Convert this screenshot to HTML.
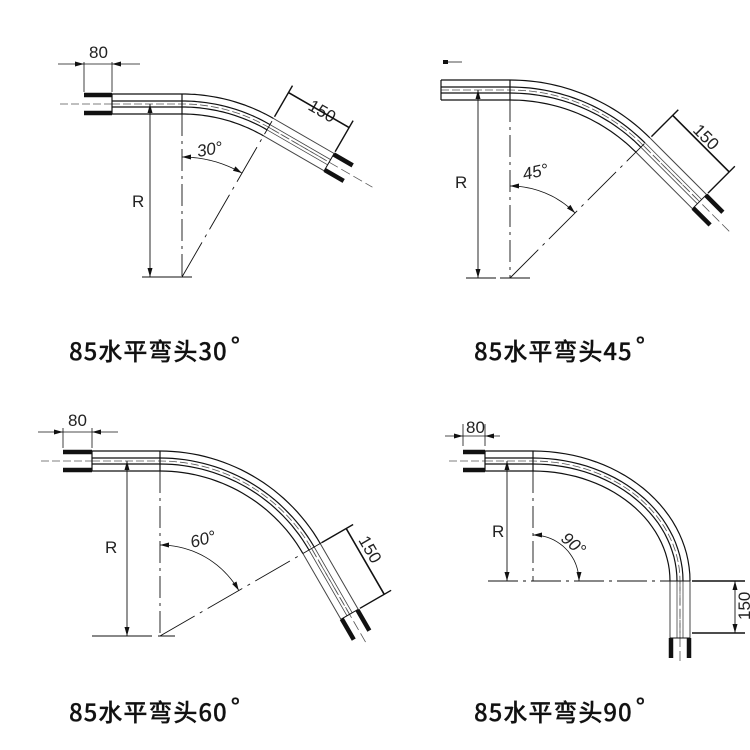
<!DOCTYPE html>
<html><head><meta charset="utf-8"><style>
html,body{margin:0;padding:0;background:#fff}
svg{display:block}
.lab{font-family:"Noto Sans CJK SC","Liberation Sans",sans-serif;font-size:24px;font-weight:500;fill:#111;stroke:#111;stroke-width:0.25;letter-spacing:1px}
.dim{font-family:"Liberation Sans",sans-serif;font-size:17px;fill:#222}
</style></head><body>
<svg id="s" width="750" height="750" viewBox="0 0 750 750" xmlns="http://www.w3.org/2000/svg">
<text class="lab" x="69" y="360">85水平弯头30<tspan dx="3" dy="-5">°</tspan></text>
<text class="lab" x="474" y="360">85水平弯头45<tspan dx="3" dy="-5">°</tspan></text>
<text class="lab" x="69" y="721">85水平弯头60<tspan dx="3" dy="-5">°</tspan></text>
<text class="lab" x="474" y="721">85水平弯头90<tspan dx="3" dy="-5">°</tspan></text>
<text class="dim" x="89" y="58">80</text>
<text class="dim" x="68" y="426">80</text>
<text class="dim" x="466" y="433">80</text>
<text class="dim" x="132" y="207">R</text>
<text class="dim" x="455" y="188">R</text>
<text class="dim" x="105" y="553">R</text>
<text class="dim" x="492" y="537">R</text>
<text class="dim" font-style="italic" x="198" y="157" transform="rotate(-10 198 157)">30°</text>
<text class="dim" font-style="italic" x="524" y="180" transform="rotate(-12 524 180)">45°</text>
<text class="dim" font-style="italic" x="192" y="548" transform="rotate(-15 192 548)">60°</text>
<text class="dim" font-style="italic" x="560" y="540" transform="rotate(40 560 540)">90°</text>
<text class="dim" x="307" y="109" transform="rotate(30 307 109)">150</text>
<text class="dim" x="692" y="131" transform="rotate(45 692 131)">150</text>
<text class="dim" x="358" y="540" transform="rotate(60 358 540)">150</text>
<text class="dim" x="750" y="620" transform="rotate(-90 750 620)">150</text>
<g id="g" fill="none" stroke="#111"></g>
</svg>
<script>
var g=document.getElementById('g'),out='';
function L(x1,y1,x2,y2,w,da,c){out+='<line x1="'+x1+'" y1="'+y1+'" x2="'+x2+'" y2="'+y2+'" stroke-width="'+(w||1)+'"'+(da?' stroke-dasharray="'+da+'"':'')+(c?' stroke="'+c+'"':'')+'/>';}
function PL(p,w,da,c){out+='<polyline points="'+p.map(function(q){return q[0].toFixed(1)+','+q[1].toFixed(1)}).join(' ')+'" stroke-width="'+w+'"'+(da?' stroke-dasharray="'+da+'"':'')+(c?' stroke="'+c+'"':'')+'/>';}
function arrow(x,y,dx,dy){var n=Math.hypot(dx,dy);dx/=n;dy/=n;var l=9,h=2.5;
out+='<polygon fill="#111" stroke="none" points="'+x+','+y+' '+(x-dx*l-dy*h)+','+(y-dy*l+dx*h)+' '+(x-dx*l+dy*h)+','+(y-dy*l-dx*h)+'"/>';}
function bend(o){
 var px=o.px,py=o.py,rx=o.rx,ry=o.ry,th=o.th*Math.PI/180;
 var top=py-ry;var x0=o.xl+(o.lcap||0);var c=[];c.push([x0,top]);c.push([px,top]);
 for(var i=1;i<=30;i++){var t=th*i/30;c.push([px+rx*Math.sin(t),py-ry*Math.cos(t)]);}
 var e=c[c.length-1];var tx=rx*Math.cos(th),ty=ry*Math.sin(th),tn=Math.hypot(tx,ty);tx/=tn;ty/=tn;
 var arcEnd=c.length-1;var s=o.len-o.cap;
 c.push([e[0]+tx*s,e[1]+ty*s]);
 function off(d,a,b){var r=[];for(var i=a;i<=b;i++){var p=c[Math.max(i-1,0)],q=c[Math.min(i+1,c.length-1)];var dx=q[0]-p[0],dy=q[1]-p[1],n=Math.hypot(dx,dy);r.push([c[i][0]+dy/n*d,c[i][1]-dx/n*d]);}return r;}
 var N=c.length-1;
 [-10,-3,3,10].forEach(function(d){PL(off(d,0,arcEnd),1.2);PL(off(d,arcEnd,N),Math.abs(d)==10?1:0.8,null,'#444');});
 PL(off(0,0,N),0.8,'8 3','#555');
 L(e[0],e[1],e[0]+tx*(o.len+o.ext),e[1]+ty*(o.len+o.ext),0.8,'10 4','#555');
 L(o.xl-(o.lext||0),top,x0,top,0.8,'8 3','#555');
 L(x0,top-10,x0,top+10,1.2);
 L(px,top-10,px,top+10,1.2);
 var nx=ty,ny=-tx;
 var q=[e[0]+tx*s,e[1]+ty*s];L(q[0]+nx*10,q[1]+ny*10,q[0]-nx*10,q[1]-ny*10,1);
 [-9,9].forEach(function(d){L(e[0]+tx*s+nx*d,e[1]+ty*s+ny*d,e[0]+tx*(o.len+2)+nx*d,e[1]+ty*(o.len+2)+ny*d,4.5);});
 if(o.lcap){[-9,9].forEach(function(d){L(o.xl,top+d,o.xl+o.lcap,top+d,4.5);});}
 return {e:e,tx:tx,ty:ty,s:s,nx:nx,ny:ny};
}
function diag(o){
 var r=bend(o),px=o.px,py=o.py,top=py-o.ry;
 L(px,top+10,px,py,0.9,'22 5 3 5');
 L(o.bl[0],py,o.bl[1],py,0.9,o.bl[2]);
 L(o.rx_,top,o.rx_,py,0.9);arrow(o.rx_,top,0,-1);arrow(o.rx_,py,0,1);
 var th=o.th*Math.PI/180;
 if(o.th<90)L(px,py,px+Math.sin(th)*o.rl,py-Math.cos(th)*o.rl,0.9,'40 6 3 6');
 var a=o.ar,pts=[];for(var i=0;i<=20;i++){var t=th*i/20;pts.push([px+a*Math.sin(t),py-a*Math.cos(t)]);}
 PL(pts,0.8);arrow(px,py-a,-1,0);var t2=th;arrow(px+a*Math.sin(t2),py-a*Math.cos(t2),Math.cos(t2),Math.sin(t2));
 if(o.d150){var e=r.e,tx=r.tx,ty=r.ty,nx=r.nx,ny=r.ny,D=o.d150;
  var p1=[e[0]+nx*12,e[1]+ny*12],p2=[e[0]+tx*r.s+nx*12,e[1]+ty*r.s+ny*12];
  L(p1[0],p1[1],p1[0]+nx*(D+8),p1[1]+ny*(D+8),1.4);L(p2[0],p2[1],p2[0]+nx*(D+8),p2[1]+ny*(D+8),1.4);
  L(p1[0]+nx*D,p1[1]+ny*D,p2[0]+nx*D,p2[1]+ny*D,1.6);}
}
diag({px:182,py:277,rx:173,ry:173,th:30,xl:84,len:90,cap:20,ext:30,lext:24,lcap:28,bl:[142,192],rx_:150,rl:180,ar:120,d150:28});
L(84,62,84,92,0.8);L(112,62,112,92,0.8);L(58,64,140,64,0.8);arrow(84,64,1,0);arrow(112,64,-1,0);
diag({px:510,py:278,rx:188,ry:188,th:45,xl:441,len:102,cap:22,ext:20,lext:0,bl:[466,530,'30 4'],rx_:478,rl:190,ar:92,d150:30});
L(443,62,462,62,0.8);out+='<rect x="443" y="60" width="5" height="4" fill="#111" stroke="none"/>';
diag({px:160,py:636,rx:175,ry:175,th:60,xl:63,len:98,cap:22,ext:10,lext:22,lcap:29,bl:[92,175,'60 6'],rx_:127,rl:215,ar:91,d150:28});
L(63,428,63,448,0.8);L(92,428,92,448,0.8);L(38,432,118,432,0.8);arrow(63,432,1,0);arrow(92,432,-1,0);
diag({px:533,py:581,rx:147,ry:120,th:90,xl:463,len:75,cap:18,ext:8,lext:14,lcap:22,bl:[488,690,'30 5 3 5'],rx_:507,rl:0,ar:46});
L(463,424,463,446,0.8);L(485,424,485,446,0.8);L(445,436,500,436,0.8);arrow(463,436,1,0);arrow(485,436,-1,0);
L(692,581,745,581,1.4);L(692,633,745,633,1.4);L(735,581,735,633,0.9);arrow(735,581,0,-1);arrow(735,633,0,1);
g.innerHTML=out;
</script>
</body></html>
